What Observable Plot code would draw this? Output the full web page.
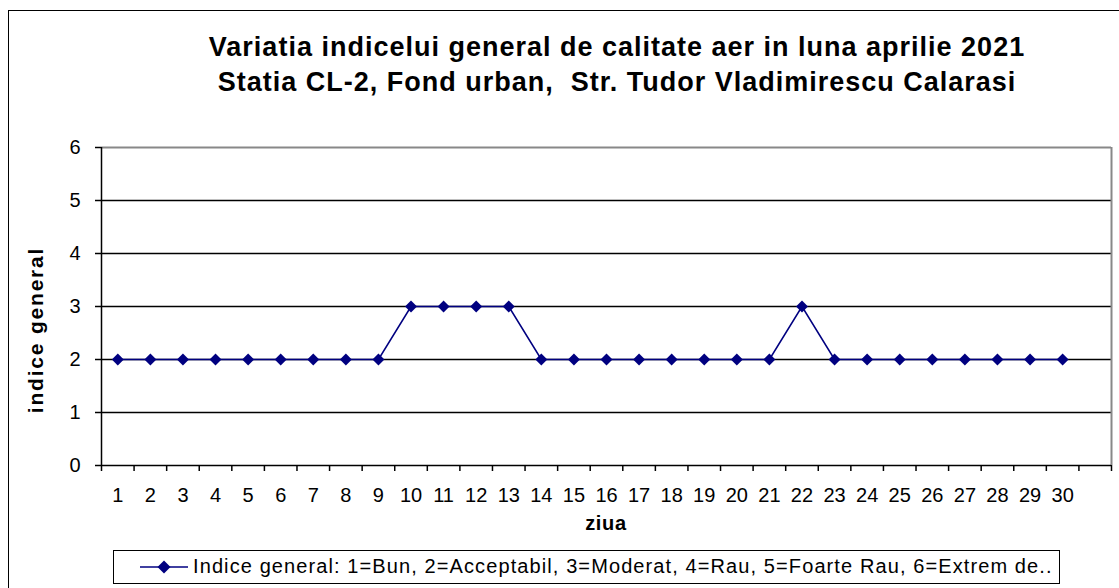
<!DOCTYPE html>
<html><head><meta charset="utf-8">
<script src="https://cdn.jsdelivr.net/npm/d3@7"></script>
<script src="https://cdn.jsdelivr.net/npm/@observablehq/plot@0.6"></script>
<style>
body{margin:0;background:#fff;font-family:Arial,"Liberation Sans",sans-serif;color:#000}
#wrap{position:relative;width:1119px;height:588px;overflow:hidden;background:#fff}
#border{position:absolute;left:8px;top:10px;width:1130px;height:600px;border:1.5px solid #000;box-sizing:border-box}
#chart{position:absolute;left:0;top:0}
#title{position:absolute;left:67px;width:1100px;top:30px;text-align:center;font-weight:bold;font-size:27px;line-height:35px;letter-spacing:1px;white-space:nowrap}
#xlab{position:absolute;left:506px;width:200px;top:512px;text-align:center;font-weight:bold;font-size:20px;letter-spacing:0.7px}
#ylab{position:absolute;left:36px;top:330px;transform:translate(-50%,-50%) rotate(-90deg);white-space:nowrap;font-weight:bold;font-size:21px;letter-spacing:1.8px}
#legend{position:absolute;left:113px;top:550px;width:947px;height:34px;border:1.5px solid #000;box-sizing:border-box;background:#fff;overflow:hidden;white-space:nowrap}
#legend svg{position:absolute;left:26px;top:6px}
#legend span{position:absolute;left:79px;top:4px;font-size:20px;letter-spacing:1.1px}
</style></head>
<body>
<div id="wrap">
<div id="border"></div>
<div id="chart"></div>
<div id="title">Variatia indicelui general de calitate aer in luna aprilie 2021<br>Statia CL-2, Fond urban,&nbsp; Str. Tudor Vladimirescu Calarasi</div>
<div id="xlab">ziua</div>
<div id="ylab">indice general</div>
<div id="legend"><svg width="50" height="20"><line x1="0" y1="10" x2="48" y2="10" stroke="#000080" stroke-width="1.5"/><path d="M24 3.5 L30.5 10 L24 16.5 L17.5 10 Z" fill="#000080"/></svg><span>Indice general: 1=Bun, 2=Acceptabil, 3=Moderat, 4=Rau, 5=Foarte Rau, 6=Extrem de..</span></div>
</div>
<script>
const days = [1,2,3,4,5,6,7,8,9,10,11,12,13,14,15,16,17,18,19,20,21,22,23,24,25,26,27,28,29,30];
const values = [2,2,2,2,2,2,2,2,2,3,3,3,3,2,2,2,2,2,2,2,2,3,2,2,2,2,2,2,2,2];
const yTicks = [0,1,2,3,4,5,6];
const gridLines = [1,2,3,4,5];

const data = days.map((d,i)=>({day:d, value:values[i]}));
const xMin = days[0]-0.5, xMax = days[days.length-1]+1.5;
const boundaries = days.map(d=>d-0.5).concat([xMax-1, xMax]);

const chart = Plot.plot({
  width:1119, height:588,
  marginLeft:101, marginRight:8, marginTop:147, marginBottom:123,
  style:{fontFamily:"Arial, 'Liberation Sans', sans-serif", fontSize:"20px", color:"#000", background:"transparent"},
  x:{type:"linear", domain:[xMin,xMax]},
  y:{domain:[0,6]},
  marks:[
    Plot.ruleY(gridLines,{stroke:"#000",strokeWidth:1.5}),
    Plot.ruleY([6],{stroke:"#888",strokeWidth:2}),
    Plot.ruleX([xMax],{stroke:"#888",strokeWidth:2}),
    Plot.ruleX([xMin],{stroke:"#000",strokeWidth:1.5}),
    Plot.ruleY([0],{stroke:"#000",strokeWidth:1.5}),
    Plot.axisY({ticks:yTicks, tickSize:6, tickPadding:15, fontSize:20, label:null, strokeWidth:1.5, tickFormat:d=>String(d)}),
    Plot.axisX({ticks:boundaries, tickSize:6, tickFormat:()=>"", label:null, strokeWidth:1.5}),
    Plot.axisX({ticks:days, tickSize:0, tickPadding:22, fontSize:20, label:null, tickFormat:d=>String(d)}),
    Plot.line(data,{x:"day",y:"value",stroke:"#000080",strokeWidth:1.5}),
    Plot.dot(data,{x:"day",y:"value",symbol:"diamond2",r:5.4,fill:"#000080",stroke:"none"})
  ]
});
document.getElementById("chart").appendChild(chart);
</script>
</body></html>
